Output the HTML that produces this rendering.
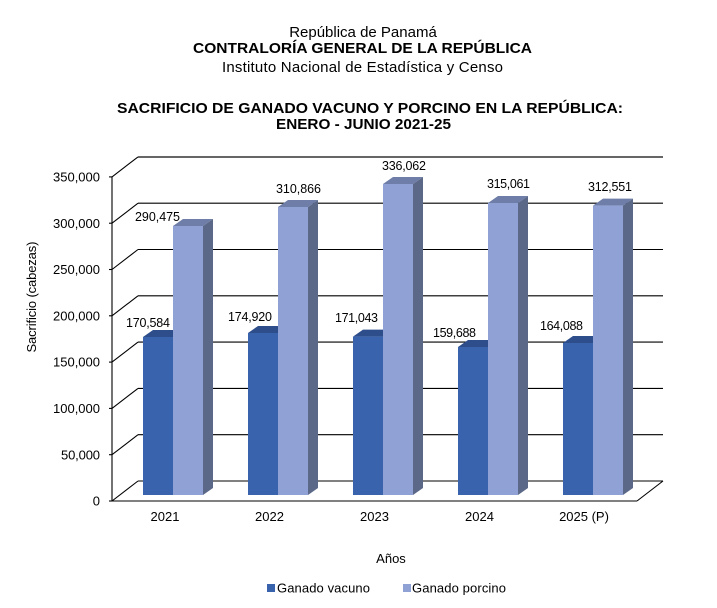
<!DOCTYPE html>
<html><head><meta charset="utf-8"><style>
html,body{margin:0;padding:0;background:#fff;}
svg{display:block;font-family:"Liberation Sans",Arial,sans-serif;}
</style></head><body>
<svg width="717" height="608" viewBox="0 0 717 608" xmlns="http://www.w3.org/2000/svg">
<rect width="717" height="608" fill="#fff"/>
<!-- titles -->
<text x="363" y="37" font-size="15" text-anchor="middle" fill="#000">República de Panamá</text>
<text x="362.5" y="53" font-size="15" font-weight="bold" text-anchor="middle" textLength="339" lengthAdjust="spacingAndGlyphs" fill="#000">CONTRALORÍA GENERAL DE LA REPÚBLICA</text>
<text x="362.5" y="72" font-size="15" text-anchor="middle" textLength="281" lengthAdjust="spacing" fill="#000">Instituto  Nacional de Estadística y Censo</text>
<text x="370" y="113" font-size="15" font-weight="bold" text-anchor="middle" textLength="506" lengthAdjust="spacingAndGlyphs" fill="#000">SACRIFICIO DE GANADO VACUNO Y PORCINO EN LA REPÚBLICA:</text>
<text x="363.5" y="129" font-size="15" font-weight="bold" text-anchor="middle" textLength="175" lengthAdjust="spacingAndGlyphs" fill="#000">ENERO - JUNIO 2021-25</text>

<!-- gridlines back wall -->
<g stroke="#000" stroke-width="1.1" fill="none">
<line x1="138" y1="434.7" x2="663" y2="434.7"/>
<line x1="138" y1="388.4" x2="663" y2="388.4"/>
<line x1="138" y1="342.1" x2="663" y2="342.1"/>
<line x1="138" y1="295.8" x2="663" y2="295.8"/>
<line x1="138" y1="249.5" x2="663" y2="249.5"/>
<line x1="138" y1="203.2" x2="663" y2="203.2"/>
<line x1="138" y1="481" x2="663" y2="481"/>
<!-- diagonals -->
<line x1="112" y1="501" x2="138" y2="481"/>
<line x1="112" y1="454.7" x2="138" y2="434.7"/>
<line x1="112" y1="408.4" x2="138" y2="388.4"/>
<line x1="112" y1="362.1" x2="138" y2="342.1"/>
<line x1="112" y1="315.8" x2="138" y2="295.8"/>
<line x1="112" y1="269.5" x2="138" y2="249.5"/>
<line x1="112" y1="223.2" x2="138" y2="203.2"/>
<line x1="112" y1="176.9" x2="138" y2="156.9"/>
<!-- axis -->
<line x1="112" y1="176.9" x2="112" y2="501"/>
<line x1="112" y1="501" x2="637" y2="501"/>
<line x1="637" y1="501" x2="663" y2="481"/>
<!-- ticks -->
<line x1="109" y1="176.9" x2="112" y2="176.9"/>
<line x1="109" y1="223.2" x2="112" y2="223.2"/>
<line x1="109" y1="269.5" x2="112" y2="269.5"/>
<line x1="109" y1="315.8" x2="112" y2="315.8"/>
<line x1="109" y1="362.1" x2="112" y2="362.1"/>
<line x1="109" y1="408.4" x2="112" y2="408.4"/>
<line x1="109" y1="454.7" x2="112" y2="454.7"/>
<line x1="109" y1="501" x2="112" y2="501"/>
</g>
<line x1="138" y1="157" x2="663" y2="157" stroke="#666" stroke-width="2"/>

<!-- y tick labels -->
<g font-size="13" text-anchor="end" fill="#000">
<text x="100" y="181.5" textLength="47" lengthAdjust="spacing">350,000</text>
<text x="100" y="227.8" textLength="47" lengthAdjust="spacing">300,000</text>
<text x="100" y="274.1" textLength="47" lengthAdjust="spacing">250,000</text>
<text x="100" y="320.4" textLength="47" lengthAdjust="spacing">200,000</text>
<text x="100" y="366.7" textLength="47" lengthAdjust="spacing">150,000</text>
<text x="100" y="413" textLength="47" lengthAdjust="spacing">100,000</text>
<text x="100" y="459.3" textLength="39" lengthAdjust="spacing">50,000</text>
<text x="100" y="505.6">0</text>
</g>
<text transform="translate(36,297) rotate(-90)" font-size="13" text-anchor="middle" textLength="111" lengthAdjust="spacing" fill="#000">Sacrificio (cabezas)</text>

<!-- bars -->
<g>
<!-- 2021 -->
<polygon points="143,337 173,337 183,330 153,330" fill="#2D4E8A"/>
<rect x="143" y="337" width="30" height="158" fill="#3A63AD"/>
<polygon points="173,226 203,226 213,219 183,219" fill="#6E7EA8"/>
<polygon points="203,226 213,219 213,488 203,495" fill="#5B6888"/>
<rect x="173" y="226" width="30" height="269" fill="#8FA1D5"/>
<!-- 2022 -->
<polygon points="248,333 278,333 288,326 258,326" fill="#2D4E8A"/>
<rect x="248" y="333" width="30" height="162" fill="#3A63AD"/>
<polygon points="278,207 308,207 318,200 288,200" fill="#6E7EA8"/>
<polygon points="308,207 318,200 318,488 308,495" fill="#5B6888"/>
<rect x="278" y="207" width="30" height="288" fill="#8FA1D5"/>
<!-- 2023 -->
<polygon points="353,336.6 383,336.6 393,329.6 363,329.6" fill="#2D4E8A"/>
<rect x="353" y="336.6" width="30" height="158.4" fill="#3A63AD"/>
<polygon points="383,184 413,184 423,177 393,177" fill="#6E7EA8"/>
<polygon points="413,184 423,177 423,488 413,495" fill="#5B6888"/>
<rect x="383" y="184" width="30" height="311" fill="#8FA1D5"/>
<!-- 2024 -->
<polygon points="458,347 488,347 498,340 468,340" fill="#2D4E8A"/>
<rect x="458" y="347" width="30" height="148" fill="#3A63AD"/>
<polygon points="488,203 518,203 528,196 498,196" fill="#6E7EA8"/>
<polygon points="518,203 528,196 528,488 518,495" fill="#5B6888"/>
<rect x="488" y="203" width="30" height="292" fill="#8FA1D5"/>
<!-- 2025 -->
<polygon points="563,343 593,343 603,336 573,336" fill="#2D4E8A"/>
<rect x="563" y="343" width="30" height="152" fill="#3A63AD"/>
<polygon points="593,205.6 623,205.6 633,198.6 603,198.6" fill="#6E7EA8"/>
<polygon points="623,205.6 633,198.6 633,488 623,495" fill="#5B6888"/>
<rect x="593" y="205.6" width="30" height="289.4" fill="#8FA1D5"/>
</g>

<!-- value labels -->
<g font-size="12.5" text-anchor="middle" fill="#000">
<text x="148" y="327" textLength="44" lengthAdjust="spacing">170,584</text>
<text x="157.5" y="221" textLength="45" lengthAdjust="spacing">290,475</text>
<text x="250" y="321" textLength="44" lengthAdjust="spacing">174,920</text>
<text x="298.5" y="193" textLength="45" lengthAdjust="spacing">310,866</text>
<text x="356.5" y="322" textLength="43" lengthAdjust="spacing">171,043</text>
<text x="404" y="170" textLength="44" lengthAdjust="spacing">336,062</text>
<text x="454.5" y="337" textLength="43" lengthAdjust="spacing">159,688</text>
<text x="508.5" y="188" textLength="43" lengthAdjust="spacing">315,061</text>
<text x="561.5" y="330" textLength="43" lengthAdjust="spacing">164,088</text>
<text x="610" y="191" textLength="44" lengthAdjust="spacing">312,551</text>
</g>

<!-- x labels -->
<g font-size="13" text-anchor="middle" fill="#000">
<text x="165" y="521">2021</text>
<text x="269.5" y="521">2022</text>
<text x="374.5" y="521">2023</text>
<text x="479.5" y="521">2024</text>
<text x="584" y="521">2025 (P)</text>
<text x="391" y="563">Años</text>
</g>

<!-- legend -->
<rect x="267" y="584" width="8" height="8" fill="#3A63AD"/>
<text x="277" y="592.5" font-size="13" textLength="93" lengthAdjust="spacing" fill="#000">Ganado vacuno</text>
<rect x="403" y="584" width="8" height="8" fill="#8FA1D5"/>
<text x="412" y="592.5" font-size="13" textLength="94" lengthAdjust="spacing" fill="#000">Ganado porcino</text>
</svg>
</body></html>
